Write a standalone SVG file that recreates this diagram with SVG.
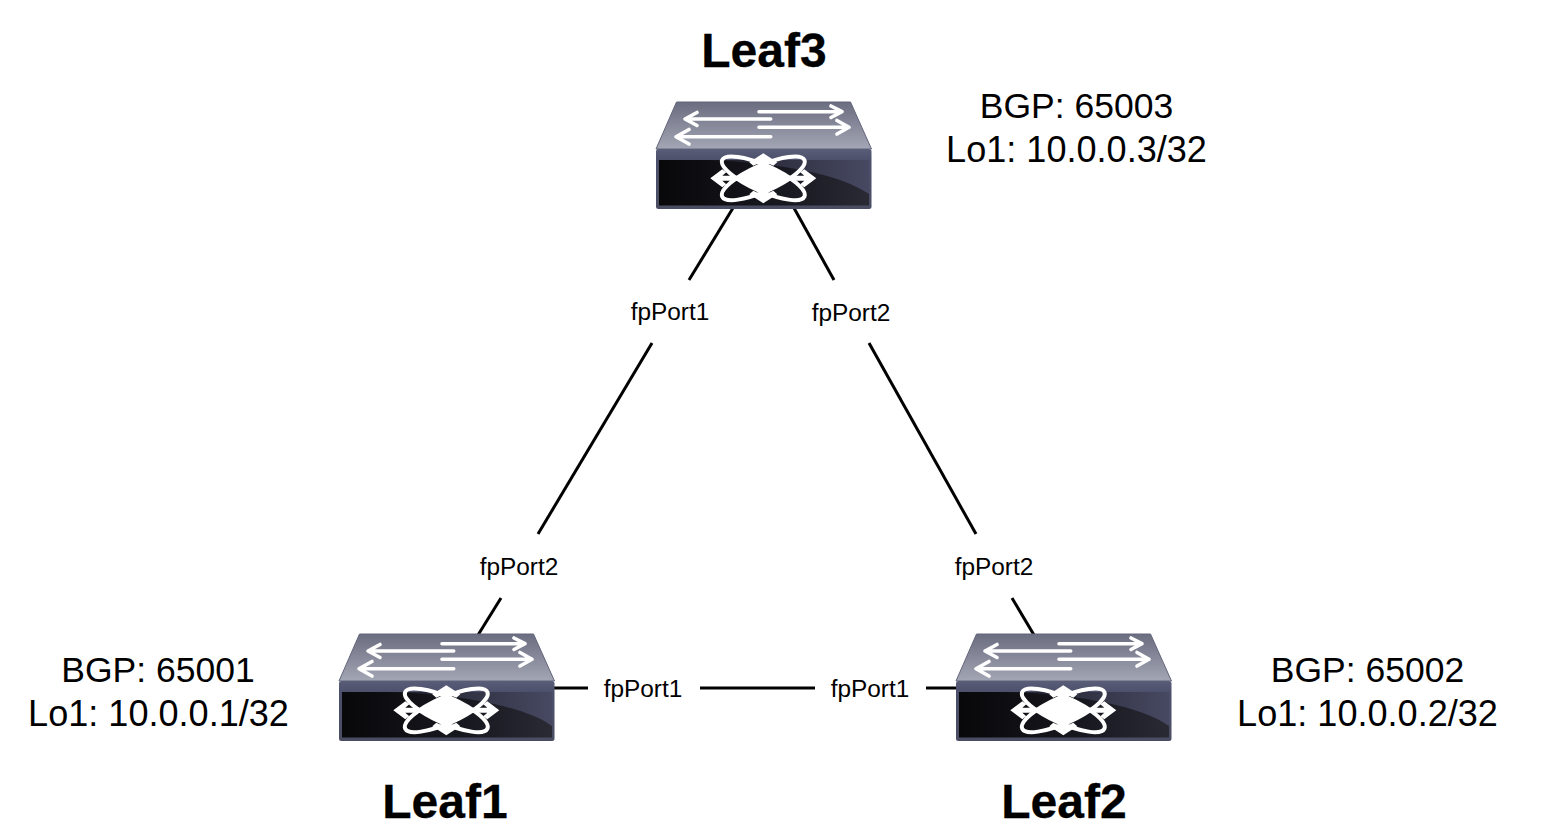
<svg xmlns="http://www.w3.org/2000/svg" width="1552" height="834" viewBox="0 0 1552 834">
<style>
text{font-family:"Liberation Sans",Arial,sans-serif;fill:#000;text-anchor:middle}
.name{font-size:48px;font-weight:700;stroke:#000;stroke-width:.3px}
.info{font-size:35.5px}
.lo{font-size:36.1px}
.port{font-size:24.4px}
.conn line{stroke:#000;stroke-width:3;fill:none}
.arw{stroke:#fff;stroke-width:3.6;fill:none;stroke-linecap:round;stroke-linejoin:round}
.orb{stroke:#fff;stroke-width:4;fill:none}
</style>
<defs>
<linearGradient id="top" x1="0" y1="0" x2="0" y2="1"><stop offset="0" stop-color="#6b6d80"/><stop offset="1" stop-color="#a3a6b4"/></linearGradient>
<linearGradient id="front" x1="0" y1="0" x2="0" y2="1"><stop offset="0" stop-color="#5a5d78"/><stop offset=".2" stop-color="#4c4f6b"/><stop offset="1" stop-color="#4a4d62"/></linearGradient>
<linearGradient id="panel" x1="0" y1="0" x2="1" y2="0"><stop offset="0" stop-color="#08080a"/><stop offset="0.6" stop-color="#181820"/><stop offset="1" stop-color="#2a2a35"/></linearGradient>
<linearGradient id="sheen" x1="0" y1="0" x2="1" y2="0"><stop offset="0" stop-color="#1c1c26"/><stop offset="1" stop-color="#474962"/></linearGradient>
<g id="switch">
<path d="M20.5 0H194.5L215.5 47H0Z" fill="url(#top)" stroke="#62647a" stroke-width="1"/>
<rect x="0" y="47" width="215.5" height="60" rx="2.5" fill="url(#front)"/>
<rect x="3" y="58" width="210" height="45.5" fill="url(#panel)"/>
<path d="M50 58C120 60 185 72 213 92V58Z" fill="url(#sheen)"/>
<g class="arw">
<path d="M103 9.7H185M175 4L186 9.7L175 15.5"/>
<path d="M103 25.3H192M181 18.5L193 25.3L181 32"/>
<path d="M114.7 17H30M41 10.5L29 17L41 23.5"/>
<path d="M114.7 34.7H21M33 27.5L20 34.7L33 42"/>
</g>
<g transform="translate(107.3 76.3)">
<path d="M-53 0L-41 -9L-37 -6L-41 -2.5H41L37 -6L41 -9L53 0L41 9L37 6L41 2.5H-41L-37 6L-41 9Z" fill="#fff"/>
<path d="M0 -25L-14 -16L-10 -12.5L-2.5 -16V16L-10 12.5L-14 16L0 25L14 16L10 12.5L2.5 16V-16L10 -12.5L14 -16Z" fill="#fff"/>
<path d="M0 -15L25 0L0 15L-25 0Z" fill="#fff"/>
<ellipse rx="45" ry="13" class="orb" transform="rotate(24)"/>
<ellipse rx="45" ry="13" class="orb" transform="rotate(-24)"/>
</g>
</g>
</defs>
<g id="connectors" class="conn">
<line x1="733" y1="208" x2="689" y2="280"/>
<line x1="652" y1="343" x2="538" y2="534"/>
<line x1="501" y1="598" x2="478" y2="635"/>
<line x1="794" y1="208" x2="834" y2="280"/>
<line x1="869" y1="343" x2="976" y2="534"/>
<line x1="1012" y1="598" x2="1034" y2="635"/>
<line x1="554" y1="688" x2="588" y2="688"/>
<line x1="700" y1="688" x2="815" y2="688"/>
<line x1="926" y1="688" x2="957" y2="688"/>
</g>
<g id="leaf3"><use href="#switch" x="656" y="102"/><text class="name" x="764" y="67">Leaf3</text><text class="info" x="1076.5" y="118">BGP: 65003</text><text class="lo" x="1076.5" y="162">Lo1: 10.0.0.3/32</text></g>
<g id="leaf1"><use href="#switch" x="339" y="634"/><text class="name" x="445" y="818">Leaf1</text><text class="info" x="158" y="682">BGP: 65001</text><text class="lo" x="158.500" y="725.500">Lo1: 10.0.0.1/32</text></g>
<g id="leaf2"><use href="#switch" x="956" y="634"/><text class="name" x="1064" y="818">Leaf2</text><text class="info" x="1367.500" y="682">BGP: 65002</text><text class="lo" x="1367.500" y="725.500">Lo1: 10.0.0.2/32</text></g>
<g id="labels">
<text class="port" x="670" y="320">fpPort1</text>
<text class="port" x="851" y="321">fpPort2</text>
<text class="port" x="519" y="575">fpPort2</text>
<text class="port" x="994" y="575">fpPort2</text>
<text class="port" x="643" y="697">fpPort1</text>
<text class="port" x="870" y="697">fpPort1</text>
</g>
</svg>
